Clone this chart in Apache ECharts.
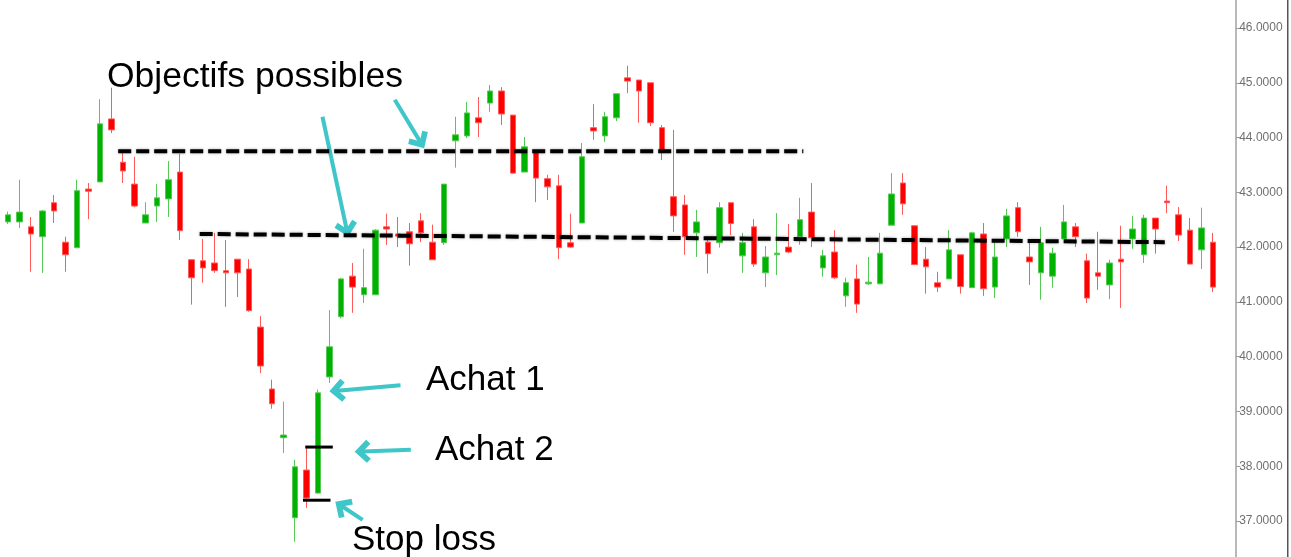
<!DOCTYPE html>
<html>
<head>
<meta charset="utf-8">
<script src="https://cdn.jsdelivr.net/npm/echarts@6/dist/echarts.min.js"></script>
<style>
  html, body { margin: 0; padding: 0; background: #fff; }
  #chart { width: 1291px; height: 557px; }
</style>
</head>
<body>
<div id="chart"></div>
<script>
// ─── Data ───────────────────────────────────────────────────────────────────

const opens = [
  42.46, 42.46, 42.37, 42.19, 42.81, 42.09, 41.99, 43.06, 43.19, 44.34,
  43.55, 43.15, 42.44, 42.75, 42.88, 43.37, 41.77, 41.75, 41.71, 41.57,
  41.78, 41.60, 40.54, 39.41, 38.52, 37.06, 37.93, 37.51, 39.63, 40.73,
  41.47, 41.13, 41.13, 42.37, 42.24, 42.28, 42.48, 42.09, 42.08, 43.94,
  44.03, 44.36, 44.63, 44.85, 44.41, 43.37, 43.73, 43.25, 43.12, 42.08,
  42.44, 44.18, 44.03, 44.36, 45.09, 45.05, 45.00, 44.18, 42.92, 42.77,
  42.26, 42.09, 42.08, 42.81, 41.84, 42.37, 41.53, 41.86, 42.00, 42.19,
  42.64, 41.62, 41.91, 41.11, 41.42, 41.33, 41.33, 42.40, 43.17, 42.39,
  41.78, 41.35, 41.42, 41.86, 41.26, 42.24, 41.27, 42.15, 42.72, 41.82,
  41.53, 41.47, 42.15, 42.37, 41.75, 41.53, 41.31, 41.78, 42.15, 41.86,
  42.53, 42.84, 42.59, 42.31, 41.95, 42.09
];
const closes = [
  42.59, 42.64, 42.24, 42.66, 42.66, 41.86, 43.03, 43.02, 44.25, 44.14,
  43.39, 42.75, 42.59, 42.90, 43.23, 42.30, 41.44, 41.62, 41.57, 41.53,
  41.53, 40.84, 39.83, 39.14, 38.57, 37.99, 37.42, 39.34, 40.18, 41.42,
  41.27, 41.26, 42.31, 42.33, 42.20, 42.06, 42.26, 41.77, 43.15, 44.05,
  44.45, 44.27, 44.85, 44.43, 43.35, 43.83, 43.26, 43.10, 41.99, 42.00,
  43.65, 44.12, 44.38, 44.80, 45.03, 44.85, 44.27, 43.77, 42.57, 42.19,
  42.46, 41.88, 42.72, 42.43, 42.08, 41.69, 41.82, 41.89, 41.91, 42.50,
  42.17, 41.84, 41.44, 41.35, 40.96, 41.36, 41.89, 42.97, 42.79, 41.68,
  41.64, 41.27, 41.95, 41.28, 42.26, 41.24, 41.82, 42.57, 42.28, 41.73,
  42.08, 41.89, 42.46, 42.19, 41.07, 41.47, 41.71, 41.73, 42.33, 42.53,
  42.33, 42.81, 42.22, 41.69, 42.35, 41.27
];
const lows = [
  42.42, 42.35, 41.55, 41.53, 42.44, 41.55, 41.98, 42.51, 43.19, 44.08,
  43.17, 42.73, 42.44, 42.46, 42.55, 42.13, 40.95, 41.35, 41.53, 40.91,
  41.09, 40.82, 39.70, 39.05, 38.24, 36.62, 37.24, 37.50, 39.52, 40.70,
  40.80, 40.98, 41.13, 42.04, 42.00, 41.66, 42.09, 41.77, 42.04, 43.45,
  43.99, 44.01, 44.47, 44.23, 43.35, 43.37, 42.82, 42.86, 41.78, 41.99,
  42.44, 43.96, 43.92, 44.30, 44.81, 44.27, 44.21, 43.59, 42.28, 41.86,
  41.82, 41.52, 41.99, 42.22, 41.53, 41.64, 41.27, 41.49, 41.89, 42.04,
  42.00, 41.46, 41.42, 40.91, 40.80, 41.31, 41.33, 42.40, 42.59, 41.68,
  41.15, 41.18, 41.42, 41.15, 41.26, 41.11, 41.07, 42.00, 42.19, 41.31,
  41.04, 41.26, 42.15, 42.00, 40.98, 41.22, 41.05, 40.89, 41.97, 41.71,
  41.88, 42.62, 42.11, 41.69, 41.60, 41.18
];
const highs = [
  42.65, 43.23, 42.55, 42.68, 42.95, 42.19, 43.23, 43.17, 44.70, 44.91,
  43.72, 43.65, 42.82, 43.15, 43.57, 43.70, 41.78, 42.15, 42.26, 42.13,
  41.78, 41.78, 40.74, 39.58, 39.18, 38.12, 38.34, 39.40, 40.85, 41.44,
  41.71, 41.97, 42.33, 42.61, 42.55, 42.44, 42.62, 42.41, 43.15, 44.38,
  44.65, 44.74, 44.96, 44.92, 44.41, 44.01, 43.73, 43.32, 43.32, 42.61,
  43.90, 44.61, 44.47, 44.81, 45.31, 45.05, 45.00, 44.23, 44.14, 42.95,
  42.68, 42.20, 42.82, 42.81, 42.26, 42.51, 42.02, 42.62, 42.42, 42.90,
  43.17, 41.95, 42.31, 41.44, 41.68, 41.82, 42.26, 43.35, 43.35, 42.39,
  42.00, 41.55, 42.31, 41.86, 42.28, 42.44, 42.08, 42.70, 42.82, 42.08,
  42.37, 41.99, 42.77, 42.44, 41.88, 42.28, 41.77, 42.39, 42.57, 42.59,
  42.53, 43.12, 42.73, 42.53, 42.72, 42.26
];

// one empty slot after the last session
const slots = opens.length + 1;
const days = Array.from({ length: slots }, (_, i) => 'J' + (i + 1));

const yTicks = { min: 36, max: 47, step: 1 };

// annotations, in [session index, price]
const upperTarget = [[9.6, 43.75], [69.3, 43.75]];
const lowerTarget = [[16.7, 42.24], [100.8, 42.09]];
const buy2Mark = [[25.9, 38.35], [28.3, 38.35]];
const stopMark = [[25.7, 37.38], [28.1, 37.38]];
const arrows = [
  [[33.7, 44.69], [35.9, 43.93]],
  [[27.4, 44.38], [29.5, 42.33]],
  [[34.2, 39.48], [28.7, 39.38]],
  [[35.1, 38.30], [30.9, 38.27]],
  [[30.9, 37.02], [29.1, 37.27]],
];
const notes = [
  { text: 'Objectifs possibles', x: 107, y: 77, size: 35.5 },
  { text: 'Achat 1', x: 426, y: 380, size: 35 },
  { text: 'Achat 2', x: 435, y: 450, size: 35 },
  { text: 'Stop loss', x: 352, y: 540, size: 35 },
];

// ─── Chart ──────────────────────────────────────────────────────────────────

const FONT = '"Liberation Sans", Arial, Helvetica, sans-serif';
const CYAN = '#3ec6c8';
const chevron = 'path://M10,0 L20,10 L16.5,13.5 L10,7 L3.5,13.5 L0,10 Z';

const candles = opens.map((o, i) => [o, closes[i], lows[i], highs[i]]);

const chart = echarts.init(document.getElementById('chart'), null, { renderer: 'canvas' });

const straight = (name, pts, width, type) => ({
  name,
  type: 'line',
  xAxisIndex: 1,
  data: pts,
  symbol: 'none',
  silent: true,
  z: 5,
  lineStyle: {
    color: '#000', width, type,
    shadowBlur: type === 'solid' ? 0 : 3, shadowColor: 'rgba(0,0,0,0.35)',
  },
});

chart.setOption({
  backgroundColor: '#fff',
  animation: false,
  grid: {
    left: 2.3, right: 60.8, top: -26.8, bottom: -18.8,
    outerBoundsMode: 'none', containLabel: false,
  },
  xAxis: [
    {
      type: 'category', data: days, boundaryGap: true,
      axisLine: { show: false }, axisTick: { show: false },
      axisLabel: { show: false }, splitLine: { show: false },
    },
    { type: 'value', min: -0.5, max: slots - 0.5, show: false },
  ],
  yAxis: {
    type: 'value', position: 'right', offset: 6, scale: true,
    min: yTicks.min, max: yTicks.max, interval: yTicks.step,
    axisLine: { show: true, onZero: false, lineStyle: { color: '#b8b8b8', width: 2 } },
    axisTick: { show: true, length: 4, lineStyle: { color: '#999' } },
    axisLabel: {
      color: '#707070', fontSize: 12, fontFamily: FONT, margin: 3,
      formatter: (v) => v.toFixed(4),
    },
    splitLine: { show: false },
  },
  series: [
    {
      name: 'Cours',
      type: 'candlestick',
      data: candles,
      barWidth: 6,
      itemStyle: {
        color: '#00b200', color0: '#ff0000',
        borderColor: '#55c955', borderColor0: '#ff5a5a', borderWidth: 1,
      },
    },
    straight('Objectif haut', upperTarget, 4, [13, 5]),
    straight('Objectif bas', lowerTarget, 4, [13, 5]),
    straight('Achat 2', buy2Mark, 3, 'solid'),
    straight('Stop loss', stopMark, 3, 'solid'),
    {
      name: 'Flèches',
      type: 'line',
      xAxisIndex: 1,
      data: [],
      markLine: {
        silent: true,
        symbol: ['none', chevron],
        symbolSize: [23, 16],
        label: { show: false },
        lineStyle: { color: CYAN, width: 4, type: 'solid' },
        emphasis: { disabled: true },
        data: arrows.map(([a, b]) => [{ coord: a }, { coord: b }]),
      },
    },
  ],
  graphic: notes.map((n) => ({
    type: 'text',
    x: n.x, y: n.y,
    silent: true,
    style: {
      text: n.text, fill: '#000',
      font: `${n.size}px ${FONT}`,
      textVerticalAlign: 'middle',
    },
  })).concat([{
    type: 'rect', silent: true,
    shape: { x: 1287, y: 0, width: 1.5, height: 557 },
    style: { fill: '#555' },
  }]),
});
</script>
</body>
</html>
